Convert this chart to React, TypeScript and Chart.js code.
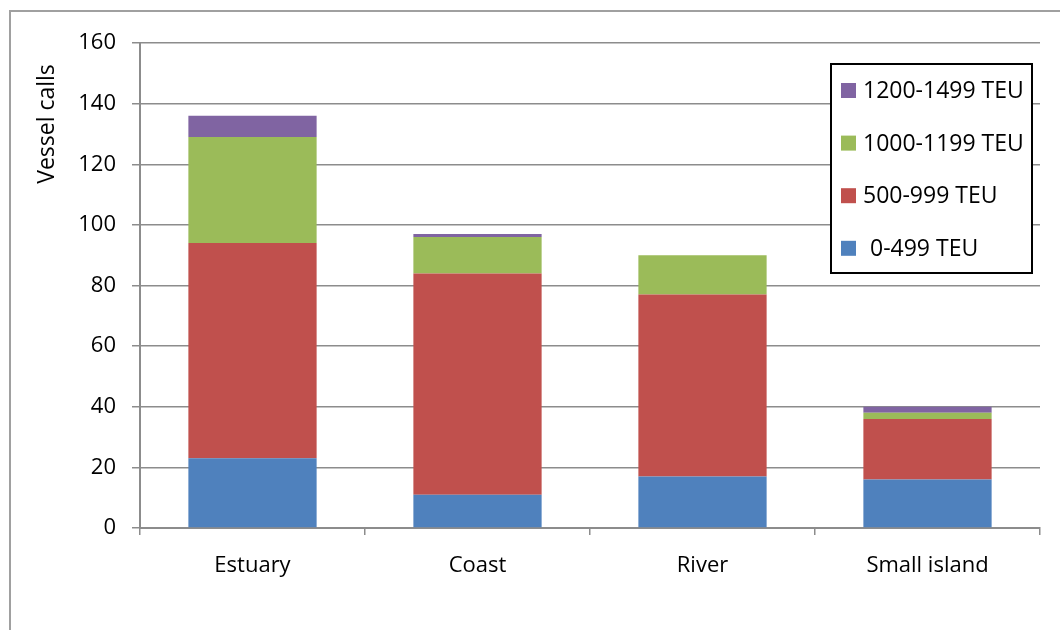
import React, { useEffect, useRef } from "react";
import { Chart, registerables } from "chart.js";

Chart.register(...registerables);

const categories = ["Estuary", "Coast", "River", "Small island"];
const teu0to499 = [23, 11, 17, 16];
const teu500to999 = [71, 73, 60, 20];
const teu1000to1199 = [35, 12, 13, 2];
const teu1200to1499 = [7, 1, 0, 2];
const seriesLabels = ["0-499 TEU", "500-999 TEU", "1000-1199 TEU", "1200-1499 TEU"];
const seriesColors = ["#4F81BD", "#C0504D", "#9BBB59", "#8064A2"];
const yTitle = "Vessel calls";
const yMin = 0;
const yMax = 160;
const yStep = 20;

const FONT = "'Open Sans', 'Liberation Sans', sans-serif";
const GRID = "#8c8c8c";

const decorPlugin = {
  id: "decor",
  afterDraw(chart: any) {
    const ctx = chart.ctx;
    ctx.save();
    ctx.translate(47, 124);
    ctx.rotate(-Math.PI / 2);
    ctx.fillStyle = "#000";
    ctx.font = `23px ${FONT}`;
    ctx.textAlign = "center";
    ctx.textBaseline = "middle";
    ctx.fillText(yTitle, 0, 0);
    ctx.restore();

    ctx.save();
    const bx = 831, by = 64, bw = 201, bh = 209;
    ctx.fillStyle = "#fff";
    ctx.fillRect(bx, by, bw, bh);
    ctx.strokeStyle = "#000";
    ctx.lineWidth = 2;
    ctx.strokeRect(bx, by, bw, bh);
    const items = chart.data.datasets.map((d: any) => ({ label: d.label, color: d.backgroundColor })).reverse();
    ctx.font = `23px ${FONT}`;
    ctx.textBaseline = "middle";
    ctx.textAlign = "left";
    items.forEach((it: any, i: number) => {
      const cy = 90.5 + i * 52.6;
      ctx.fillStyle = it.color;
      ctx.fillRect(841, cy - 7.5, 15, 15);
      ctx.fillStyle = "#000";
      const extra = it.label.startsWith("0-") ? 7 : 0;
      ctx.fillText(it.label, 863 + extra, cy + 1);
    });
    ctx.restore();
  },
};

export default function App() {
  const ref = useRef<HTMLCanvasElement | null>(null);
  useEffect(() => {
    if (!ref.current) return;
    const seriesData = [teu0to499, teu500to999, teu1000to1199, teu1200to1499];
    const chart = new Chart(ref.current, {
      type: "bar",
      data: {
        labels: categories,
        datasets: seriesData.map((d, i) => ({
          label: seriesLabels[i],
          data: d,
          backgroundColor: seriesColors[i],
          borderWidth: 0,
          categoryPercentage: 1,
          barPercentage: 0.57,
        })),
      },
      options: {
        animation: false,
        responsive: false,
        maintainAspectRatio: false,
        layout: { padding: { left: 0, top: 43, right: 20, bottom: 0 } },
        plugins: { legend: { display: false }, tooltip: { enabled: false }, title: { display: false } },
        scales: {
          x: {
            stacked: true,
            offset: true,
            grid: {
              offset: true,
              drawOnChartArea: false,
              drawTicks: true,
              tickLength: 7,
              color: GRID,
              lineWidth: 1.5,
            },
            border: { display: true, color: GRID, width: 2 },
            ticks: { color: "#000", font: { family: FONT, size: 22 }, padding: 18 },
            afterFit: (s: any) => { s.height = 630 - 528; },
          },
          y: {
            stacked: true,
            min: yMin,
            max: yMax,
            ticks: { stepSize: yStep, color: "#000", font: { family: FONT, size: 22 }, padding: 16 },
            grid: { color: GRID, lineWidth: 1.5, drawTicks: true, tickLength: 8 },
            border: { display: true, color: GRID, width: 2 },
            afterFit: (s: any) => { s.width = 140; },
          },
        },
      },
      plugins: [decorPlugin],
    });
    return () => chart.destroy();
  }, []);

  return (
    <div style={{ position: "fixed", left: 0, top: 0, width: 1060, height: 630, overflow: "hidden", background: "#fff" }}>
      <div style={{ position: "absolute", left: 9, top: 10, width: 1200, height: 800, borderTop: "2px solid #a0a0a0", borderLeft: "2px solid #a0a0a0" }} />
      <canvas ref={ref} width={1060} height={630} style={{ position: "absolute", left: 0, top: 0, width: 1060, height: 630, display: "block" }} />
    </div>
  );
}
